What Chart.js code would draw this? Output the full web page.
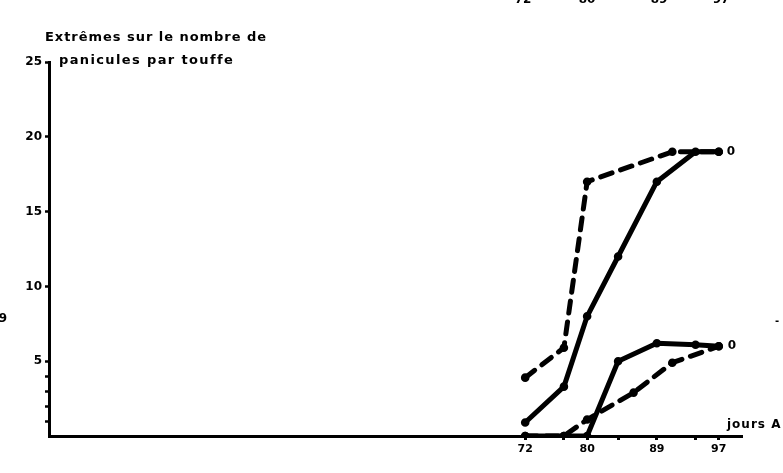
<!DOCTYPE html>
<html>
<head>
<meta charset="utf-8">
<script src="https://cdn.jsdelivr.net/npm/chart.js@4/dist/chart.umd.min.js"></script>
<style>
  html, body { margin: 0; padding: 0; background: #fff; }
  #wrap { position: relative; width: 783px; height: 473px; }
</style>
</head>
<body>
<div id="wrap"><canvas id="c" width="783" height="473"></canvas></div>
<script>
// ---- data ----
const xTickDays = [72, 77, 80, 84, 89, 94, 97];
const xTickLabels = ['72', '', '80', '', '89', '', '97'];
const yTickValues = [1, 2, 3, 4, 5, 10, 15, 20, 25];
const yTickLabels = ['', '', '', '', '5', '10', '15', '20', '25'];

const upperDashedDays = [72, 77, 80, 91, 97];
const upperDashedVals = [3.9, 5.9, 17, 19, 19];

const upperSolidDays = [72, 77, 80, 84, 89, 94, 97];
const upperSolidVals = [0.9, 3.3, 8, 12, 17, 19, 19];

const lowerSolidDays = [72, 77, 80, 84, 89, 94, 97];
const lowerSolidVals = [0, 0, 0, 5, 6.2, 6.1, 6];

const lowerDashedDays = [72, 77, 80, 86, 91, 97];
const lowerDashedVals = [0, 0, 1.1, 2.9, 4.9, 6];

const titleLines = ['Extrêmes sur le nombre de', 'panicules par touffe'];
const endMarks = ['0', '0'];
const xAxisName = 'jours A';
const topCutLabels = ['72', '80', '89', '97'];

function pts(xs, ys) { return xs.map((x, i) => ({ x: x, y: ys[i] })); }

const lineBase = {
  borderColor: '#000', backgroundColor: '#000', borderWidth: 5,
  tension: 0, pointRadius: 1.8, pointHoverRadius: 1.8,
  borderCapStyle: 'round', borderJoinStyle: 'round', fill: false
};

const FONT = '"DejaVu Sans", "Liberation Sans", Arial, sans-serif';

const textPlugin = {
  id: 'texts',
  afterDraw(chart) {
    const ctx = chart.ctx;
    const xs = chart.scales.x, ys = chart.scales.y;
    ctx.save();
    ctx.fillStyle = '#000';
    // title
    ctx.font = 'bold 13px ' + FONT;
    ctx.textBaseline = 'middle';
    ctx.textAlign = 'left';
    const tl = [[45, 38, 221], [59, 61, 173]];
    titleLines.forEach((t, i) => {
      ctx.letterSpacing = '0px';
      const w = ctx.measureText(t).width;
      const ls = (tl[i][2] - w) / (t.length - 1);
      ctx.letterSpacing = ls.toFixed(2) + 'px';
      ctx.fillText(t, tl[i][0], tl[i][1]);
    });
    ctx.letterSpacing = '0px';
    // end marks
    ctx.font = 'bold 12px ' + FONT;
    ctx.fillText(endMarks[0], xs.getPixelForValue(97) + 8, ys.getPixelForValue(19));
    ctx.fillText(endMarks[1], xs.getPixelForValue(97) + 9, ys.getPixelForValue(6));
    // axis name
    ctx.letterSpacing = '1px';
    ctx.fillText(xAxisName, 727, 425);
    ctx.letterSpacing = '0px';
    // partial labels cut at top
    ctx.textAlign = 'center';
    ctx.textBaseline = 'bottom';
    const tx = [523, 587, 659, 721];
    topCutLabels.forEach((t, i) => ctx.fillText(t, tx[i], 6));
    // fragments at edges
    ctx.textBaseline = 'middle';
    ctx.fillText('9', 3, 319);
    ctx.font = 'bold 10px ' + FONT;
    ctx.fillText('-', 777, 321);
    ctx.restore();
  }
};

new Chart(document.getElementById('c'), {
  type: 'line',
  data: {
    datasets: [
      Object.assign({}, lineBase, { label: 'max A', data: pts(upperDashedDays, upperDashedVals), borderDash: [12, 9] }),
      Object.assign({}, lineBase, { label: 'max B', data: pts(upperSolidDays, upperSolidVals) }),
      Object.assign({}, lineBase, { label: 'min B', data: pts(lowerSolidDays, lowerSolidVals) }),
      Object.assign({}, lineBase, { label: 'min A', data: pts(lowerDashedDays, lowerDashedVals), borderDash: [12, 9] })
    ]
  },
  options: {
    responsive: false,
    animation: false,
    layout: { padding: { top: 62, right: 41, left: 0, bottom: 0 } },
    plugins: { legend: { display: false }, tooltip: { enabled: false } },
    scales: {
      x: {
        type: 'linear', min: 10.5, max: 100,
        afterBuildTicks: (s) => { s.ticks = xTickDays.map(v => ({ value: v })); },
        afterFit: (s) => { s.height = 37; },
        grid: { drawOnChartArea: false, drawTicks: true, tickLength: 4, tickWidth: 3, tickColor: '#000' },
        border: { display: true, color: '#000', width: 3 },
        ticks: {
          autoSkip: false, maxRotation: 0, padding: 3, color: '#000',
          font: { family: FONT, size: 11, weight: 'bold' },
          callback: (v) => { const i = xTickDays.indexOf(v); return i >= 0 ? xTickLabels[i] : ''; }
        }
      },
      y: {
        type: 'linear', min: 0, max: 25,
        afterBuildTicks: (s) => { s.ticks = yTickValues.map(v => ({ value: v })); },
        afterFit: (s) => { s.width = 49; },
        grid: { drawOnChartArea: false, drawTicks: true, tickLength: 4, tickWidth: 2.5, tickColor: '#000' },
        border: { display: true, color: '#000', width: 3 },
        ticks: {
          autoSkip: false, padding: 3, color: '#000',
          font: { family: FONT, size: 12, weight: 'bold' },
          callback: (v) => { const i = yTickValues.indexOf(v); return i >= 0 ? yTickLabels[i] : ''; }
        }
      }
    }
  },
  plugins: [textPlugin]
});
</script>
</body>
</html>
